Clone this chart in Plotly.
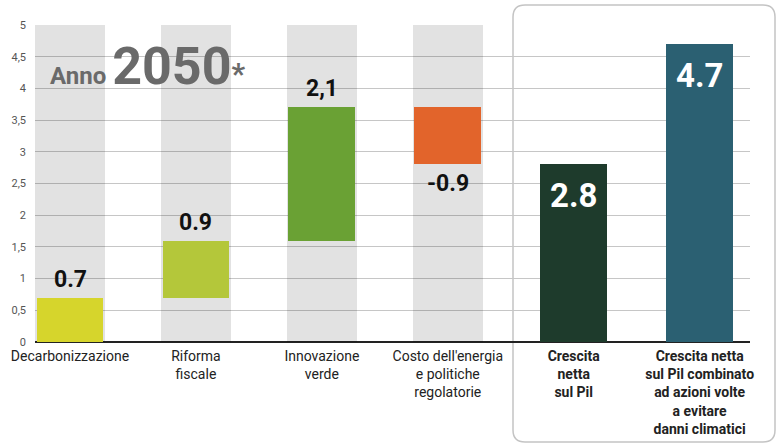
import plotly.graph_objects as go

# ---- data ----
categories = ["Decarbonizzazione", "Riforma fiscale", "Innovazione verde",
              "Costo dell'energia e politiche regolatorie",
              "Crescita netta sul Pil",
              "Crescita netta sul Pil combinato ad azioni volte a evitare danni climatici"]
tick_labels = ["Decarbonizzazione", "Riforma<br>fiscale", "Innovazione<br>verde",
               "Costo dell'energia<br>e politiche<br>regolatorie",
               "<b>Crescita</b><br><b>netta</b><br><b>sul Pil</b>",
               "<b>Crescita netta</b><br><b>sul Pil combinato</b><br><b>ad azioni volte</b><br><b>a evitare</b><br><b>danni climatici</b>"]
changes = [0.7, 0.9, 2.1, -0.9]          # waterfall contributions
totals = [2.8, 4.7]                        # total bars
value_labels = ["0.7", "0.9", "2,1", "-0.9", "2.8", "4.7"]
bar_colors = ["#d6d52c", "#b4c73a", "#6aa134", "#e2642b", "#1e3b2c", "#2b6072"]
y_ticks = [0, 0.5, 1, 1.5, 2, 2.5, 3, 3.5, 4, 4.5, 5]
y_tick_text = ["0", "0,5", "1", "1,5", "2", "2,5", "3", "3,5", "4", "4,5", "5"]
y_max = 5

# derived waterfall geometry
bases = []
run = 0.0
for c in changes:
    bases.append(run if c >= 0 else run + c)
    run += c
heights = [abs(c) for c in changes]
xs = list(range(len(categories)))
bar_base = bases + [0] * len(totals)
bar_height = heights + totals

FONT = "Roboto, 'Open Sans', sans-serif"

fig = go.Figure()
# gray background bands behind waterfall columns (translucent so grid shows through)
fig.add_trace(go.Bar(x=xs[:len(changes)], y=[y_max] * len(changes), base=0,
                     width=0.56, marker=dict(color="rgba(0,0,0,0.115)", line=dict(width=0)),
                     hoverinfo="skip", showlegend=False))
fig.add_trace(go.Bar(x=xs, y=bar_height, base=bar_base, width=0.53,
                     marker=dict(color=bar_colors, line=dict(width=0)),
                     showlegend=False))

# value labels
anns = []
for i, c in enumerate(changes):
    if c >= 0:
        anns.append(dict(x=i, y=bases[i] + heights[i], text=f"<b>{value_labels[i]}</b>",
                         yanchor="bottom", yshift=3, showarrow=False,
                         font=dict(size=23, color="#111", family=FONT)))
    else:
        anns.append(dict(x=i, y=bases[i], text=f"<b>{value_labels[i]}</b>",
                         yanchor="top", yshift=-4, showarrow=False,
                         font=dict(size=23, color="#111", family=FONT)))
for j, t in enumerate(totals):
    i = len(changes) + j
    anns.append(dict(x=i, y=t, text=f"<b>{value_labels[i]}</b>",
                     yanchor="top", yshift=-10, showarrow=False,
                     font=dict(size=33, color="white", family=FONT)))
# title
anns.append(dict(xref="paper", yref="paper", x=0.018, y=0.87, xanchor="left", yanchor="middle",
                 text="<b>Anno</b> <span style='font-size:52px'><b>2050</b></span><span style='font-size:30px'><b>*</b></span>",
                 showarrow=False, font=dict(size=24, color="#6a6a6a", family=FONT)))

# rounded box around the totals (paper coords)
L, R, T, B = 35, 750, 25, 342
def px(x): return (x - L) / (R - L)
def py(y): return (B - y) / (B - T)
x0, x1, y0, y1, r = 513, 775, 5, 442, 12
path = (f"M {px(x0+r)} {py(y0)} L {px(x1-r)} {py(y0)} Q {px(x1)} {py(y0)} {px(x1)} {py(y0+r)} "
        f"L {px(x1)} {py(y1-r)} Q {px(x1)} {py(y1)} {px(x1-r)} {py(y1)} "
        f"L {px(x0+r)} {py(y1)} Q {px(x0)} {py(y1)} {px(x0)} {py(y1-r)} "
        f"L {px(x0)} {py(y0+r)} Q {px(x0)} {py(y0)} {px(x0+r)} {py(y0)} Z")

fig.update_layout(
    width=779, height=444, autosize=False,
    margin=dict(l=L, r=779 - R, t=T, b=444 - B),
    paper_bgcolor="white", plot_bgcolor="white",
    barmode="overlay", bargap=0,
    annotations=anns,
    shapes=[dict(type="path", path=path, xref="paper", yref="paper",
                 line=dict(color="#c4c4c4", width=1.5), layer="below")],
    font=dict(family=FONT),
)
fig.update_xaxes(range=[-0.278, 5.4], tickvals=xs, ticktext=tick_labels,
                 tickfont=dict(size=14, color="#222", family=FONT),
                 showgrid=False, showline=False, zeroline=False, ticks="",
                 ticklabelstandoff=4, automargin=False)
fig.update_yaxes(range=[0, y_max], tickvals=y_ticks, ticktext=y_tick_text,
                 tickfont=dict(size=11, color="#555", family=FONT),
                 showgrid=True, gridcolor="#c6c6c6", gridwidth=1,
                 zeroline=True, zerolinecolor="#222", zerolinewidth=2,
                 ticklabelstandoff=8, layer="above traces", automargin=False)
fig.write_html("out.html")
